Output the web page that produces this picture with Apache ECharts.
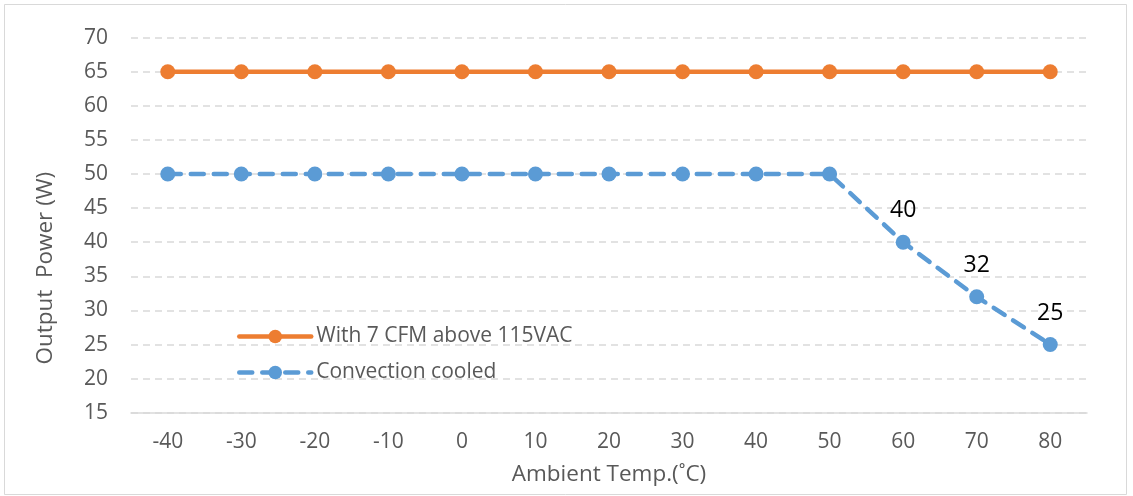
<!DOCTYPE html>
<html><head><meta charset="utf-8">
<script src="https://cdn.jsdelivr.net/npm/echarts@6/dist/echarts.min.js"></script>
<style>html,body{margin:0;padding:0;background:#fff}#c{width:1133px;height:496px}</style>
</head><body><div id="c"></div>
<script>
const categories = ['-40','-30','-20','-10','0','10','20','30','40','50','60','70','80'];
const cfmSeries = [65,65,65,65,65,65,65,65,65,65,65,65,65];
const convSeries = [50,50,50,50,50,50,50,50,50,50,40,32,25];
const convLabelShown = [0,0,0,0,0,0,0,0,0,0,1,1,1];
const seriesNames = ['With 7 CFM above 115VAC','Convection cooled'];
const yTicks = {min:15, max:70, interval:5};

const FONT = '"Open Sans", sans-serif';
const chart = echarts.init(document.getElementById('c'));
chart.setOption({
  animation:false,
  backgroundColor:'#fff',
  graphic:[{type:'rect',shape:{x:4.5,y:4.5,width:1122,height:490},style:{fill:'none',stroke:'#D9D9D9',lineWidth:1},silent:true}],
  grid:{left:131,right:46,top:37.7,bottom:83.3,containLabel:false},
  legend:{
    orient:'vertical',left:237,top:326,padding:0,itemWidth:72,itemHeight:17,itemGap:15,
    textStyle:{color:'#595959',fontSize:21,lineHeight:20,fontFamily:FONT},
    data:[
      {name:seriesNames[0],lineStyle:{width:4.5,cap:'round'}},
      {name:seriesNames[1],lineStyle:{width:4.5,cap:'round',type:[13,10]}}
    ]
  },
  xAxis:{
    type:'category',data:categories,boundaryGap:true,
    axisLine:{lineStyle:{color:'#D9D9D9',width:1.5}},axisTick:{show:false},
    axisLabel:{color:'#595959',fontSize:21,fontFamily:FONT,margin:19},
    name:'Ambient Temp.(˚C)',nameLocation:'middle',nameGap:50,
    nameTextStyle:{color:'#595959',fontSize:22.5,fontFamily:FONT}
  },
  yAxis:{
    type:'value',min:yTicks.min,max:yTicks.max,interval:yTicks.interval,
    axisLine:{show:false},axisTick:{show:false},
    splitLine:{lineStyle:{color:'#D9D9D9',width:1.5,type:[7,5]}},
    axisLabel:{color:'#595959',fontSize:21,fontFamily:FONT,margin:23},
    name:'Output  Power (W)',nameLocation:'middle',nameGap:74,nameRotate:90,
    nameTextStyle:{color:'#595959',fontSize:22.5,fontFamily:FONT,padding:[0,86,0,0]}
  },
  series:[
    {name:seriesNames[0],type:'line',data:cfmSeries,symbol:'circle',symbolSize:15,
     itemStyle:{color:'#ED7D31'},lineStyle:{color:'#ED7D31',width:4.5}},
    {name:seriesNames[1],type:'line',symbol:'circle',symbolSize:15,
     itemStyle:{color:'#5B9BD5'},lineStyle:{color:'#5B9BD5',width:4.5,type:[13,10],cap:'round'},
     data:convSeries.map((v,i)=>({value:v,label:{show:!!convLabelShown[i],position:'top',distance:12.5,color:'#000',fontSize:23,fontFamily:FONT}}))}
  ]
});
</script></body></html>
